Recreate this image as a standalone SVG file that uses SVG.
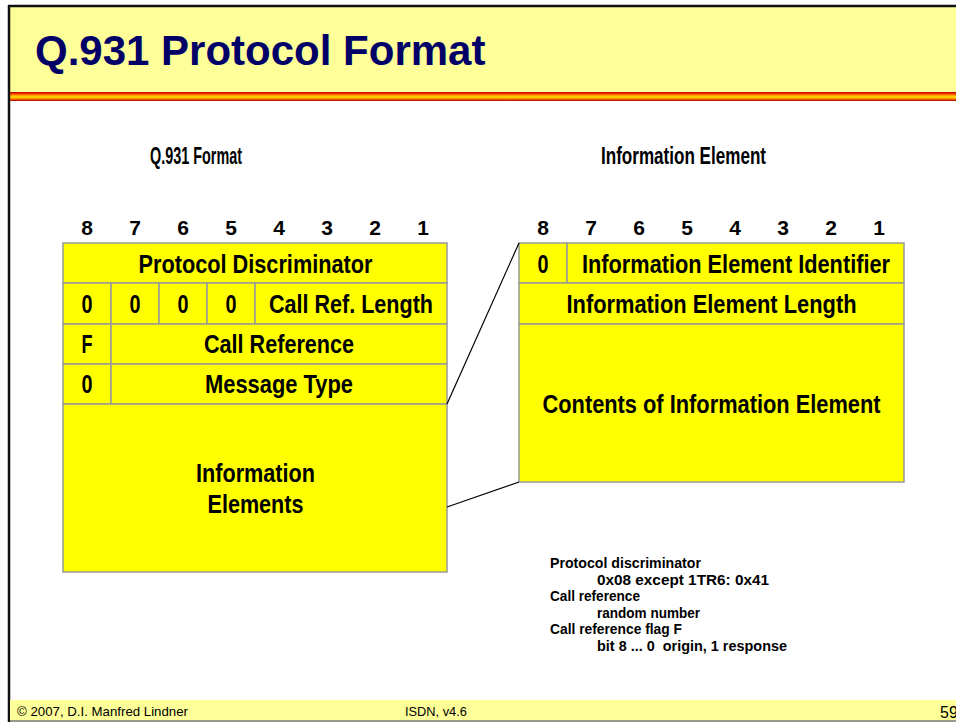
<svg xmlns="http://www.w3.org/2000/svg" width="956" height="722" viewBox="0 0 956 722">
<defs>
<linearGradient id="stripe" x1="0" y1="0" x2="0" y2="1">
<stop offset="0" stop-color="#b00000"/>
<stop offset="0.2" stop-color="#ff3300"/>
<stop offset="0.45" stop-color="#ffcc00"/>
<stop offset="0.6" stop-color="#ffcc00"/>
<stop offset="0.8" stop-color="#ff6600"/>
<stop offset="1" stop-color="#a00000"/>
</linearGradient>
<style>
.cell{fill:#ffff00;stroke:#999999;stroke-width:1.5}
.t{font-family:"Liberation Sans Narrow","Liberation Sans",Arial,sans-serif;font-size:25px;font-weight:bold;fill:#000;text-anchor:middle}
.bit{font-family:"Liberation Sans Narrow","Liberation Sans",Arial,sans-serif;font-size:21px;font-weight:bold;fill:#000;text-anchor:middle}
.h{font-family:"Liberation Sans Narrow","Liberation Sans",Arial,sans-serif;font-size:24px;font-weight:bold;fill:#000}
.n{font-family:"Liberation Sans Narrow","Liberation Sans",Arial,sans-serif;font-size:15.5px;font-weight:bold;fill:#000}
.f{font-family:"Liberation Sans",Arial,sans-serif;font-size:12.8px;fill:#000}
.conn{stroke:#000;stroke-width:1.2;fill:none}
</style>
</defs>
<rect x="0" y="0" width="956" height="722" fill="#ffffff"/>
<g id="header">
<rect x="9" y="6" width="947" height="86" fill="#ffff99"/>
<rect x="9" y="92" width="947" height="9" fill="url(#stripe)"/>
<line x1="8" y1="6" x2="956" y2="6" stroke="#111" stroke-width="2.5"/>
<text x="35" y="65" font-family="Liberation Sans,Arial,sans-serif" font-size="42" font-weight="bold" fill="#000066">Q.931 Protocol Format</text>
</g>
<line x1="9" y1="5" x2="9" y2="722" stroke="#111" stroke-width="2.5"/>
<g id="footer">
<rect x="10" y="700" width="946" height="21" fill="#ffff99"/>
<line x1="10" y1="721" x2="956" y2="721" stroke="#777" stroke-width="1.5"/>
<text class="f" x="17" y="716" textLength="171" lengthAdjust="spacingAndGlyphs">© 2007, D.I. Manfred Lindner</text>
<text class="f" x="405" y="716">ISDN, v4.6</text>
<text class="f" x="940" y="718" style="font-size:16px">59</text>
</g>
<g id="headings">
<text class="h" x="150" y="164" textLength="92" lengthAdjust="spacingAndGlyphs">Q.931 Format</text>
<text class="h" x="601" y="164" textLength="165" lengthAdjust="spacingAndGlyphs">Information Element</text>
</g>
<g id="bits-left">
<text class="bit" x="87" y="235">8</text><text class="bit" x="135" y="235">7</text><text class="bit" x="183" y="235">6</text><text class="bit" x="231" y="235">5</text><text class="bit" x="279" y="235">4</text><text class="bit" x="327" y="235">3</text><text class="bit" x="375" y="235">2</text><text class="bit" x="423" y="235">1</text>
</g>
<g id="bits-right">
<text class="bit" x="543" y="235">8</text><text class="bit" x="591" y="235">7</text><text class="bit" x="639" y="235">6</text><text class="bit" x="687" y="235">5</text><text class="bit" x="735" y="235">4</text><text class="bit" x="783" y="235">3</text><text class="bit" x="831" y="235">2</text><text class="bit" x="879" y="235">1</text>
</g>
<g id="q931-format">
<g id="protocol-discriminator"><rect class="cell" x="63" y="243" width="384" height="40"/><text class="t" x="255.5" y="273" textLength="234" lengthAdjust="spacingAndGlyphs">Protocol Discriminator</text></g>
<g id="call-ref-length-row">
<rect class="cell" x="63" y="283" width="48" height="41"/><text class="t" x="87" y="313" textLength="11" lengthAdjust="spacingAndGlyphs">0</text>
<rect class="cell" x="111" y="283" width="48" height="41"/><text class="t" x="135" y="313" textLength="11" lengthAdjust="spacingAndGlyphs">0</text>
<rect class="cell" x="159" y="283" width="48" height="41"/><text class="t" x="183" y="313" textLength="11" lengthAdjust="spacingAndGlyphs">0</text>
<rect class="cell" x="207" y="283" width="48" height="41"/><text class="t" x="231" y="313" textLength="11" lengthAdjust="spacingAndGlyphs">0</text>
<rect class="cell" x="255" y="283" width="192" height="41"/><text class="t" x="351" y="313" textLength="164" lengthAdjust="spacingAndGlyphs">Call Ref. Length</text>
</g>
<g id="call-reference-row">
<rect class="cell" x="63" y="324" width="48" height="40"/><text class="t" x="87" y="353" textLength="11" lengthAdjust="spacingAndGlyphs">F</text>
<rect class="cell" x="111" y="324" width="336" height="40"/><text class="t" x="279" y="353" textLength="150" lengthAdjust="spacingAndGlyphs">Call Reference</text>
</g>
<g id="message-type-row">
<rect class="cell" x="63" y="364" width="48" height="40"/><text class="t" x="87" y="393" textLength="11" lengthAdjust="spacingAndGlyphs">0</text>
<rect class="cell" x="111" y="364" width="336" height="40"/><text class="t" x="279" y="393" textLength="148" lengthAdjust="spacingAndGlyphs">Message Type</text>
</g>
<g id="information-elements">
<rect class="cell" x="63" y="404" width="384" height="168"/>
<text class="t" x="255.5" y="482" textLength="119" lengthAdjust="spacingAndGlyphs">Information</text>
<text class="t" x="255.5" y="513" textLength="96" lengthAdjust="spacingAndGlyphs">Elements</text>
</g>
</g>
<g id="information-element">
<g id="ie-identifier-row">
<rect class="cell" x="519" y="243" width="48" height="40"/><text class="t" x="543" y="273" textLength="11" lengthAdjust="spacingAndGlyphs">0</text>
<rect class="cell" x="567" y="243" width="337" height="40"/><text class="t" x="736" y="273" textLength="308" lengthAdjust="spacingAndGlyphs">Information Element Identifier</text>
</g>
<g id="ie-length"><rect class="cell" x="519" y="283" width="385" height="41"/><text class="t" x="711.5" y="313" textLength="290" lengthAdjust="spacingAndGlyphs">Information Element Length</text></g>
<g id="ie-contents"><rect class="cell" x="519" y="324" width="385" height="158"/><text class="t" x="711.5" y="413" textLength="338" lengthAdjust="spacingAndGlyphs">Contents of Information Element</text></g>
</g>
<g id="connectors">
<line class="conn" x1="447" y1="404" x2="519" y2="243"/>
<line class="conn" x1="447" y1="507" x2="519" y2="482"/>
</g>
<g id="notes">
<text class="n" x="550" y="568" textLength="151" lengthAdjust="spacingAndGlyphs">Protocol discriminator</text>
<text class="n" x="597" y="584.5" textLength="172" lengthAdjust="spacingAndGlyphs">0x08 except 1TR6: 0x41</text>
<text class="n" x="550" y="601" textLength="90" lengthAdjust="spacingAndGlyphs">Call reference</text>
<text class="n" x="597" y="617.5" textLength="103" lengthAdjust="spacingAndGlyphs">random number</text>
<text class="n" x="550" y="634" textLength="132" lengthAdjust="spacingAndGlyphs">Call reference flag F</text>
<text class="n" x="597" y="650.5" textLength="190" lengthAdjust="spacingAndGlyphs" xml:space="preserve">bit 8 ... 0  origin, 1 response</text>
</g>
</svg>
